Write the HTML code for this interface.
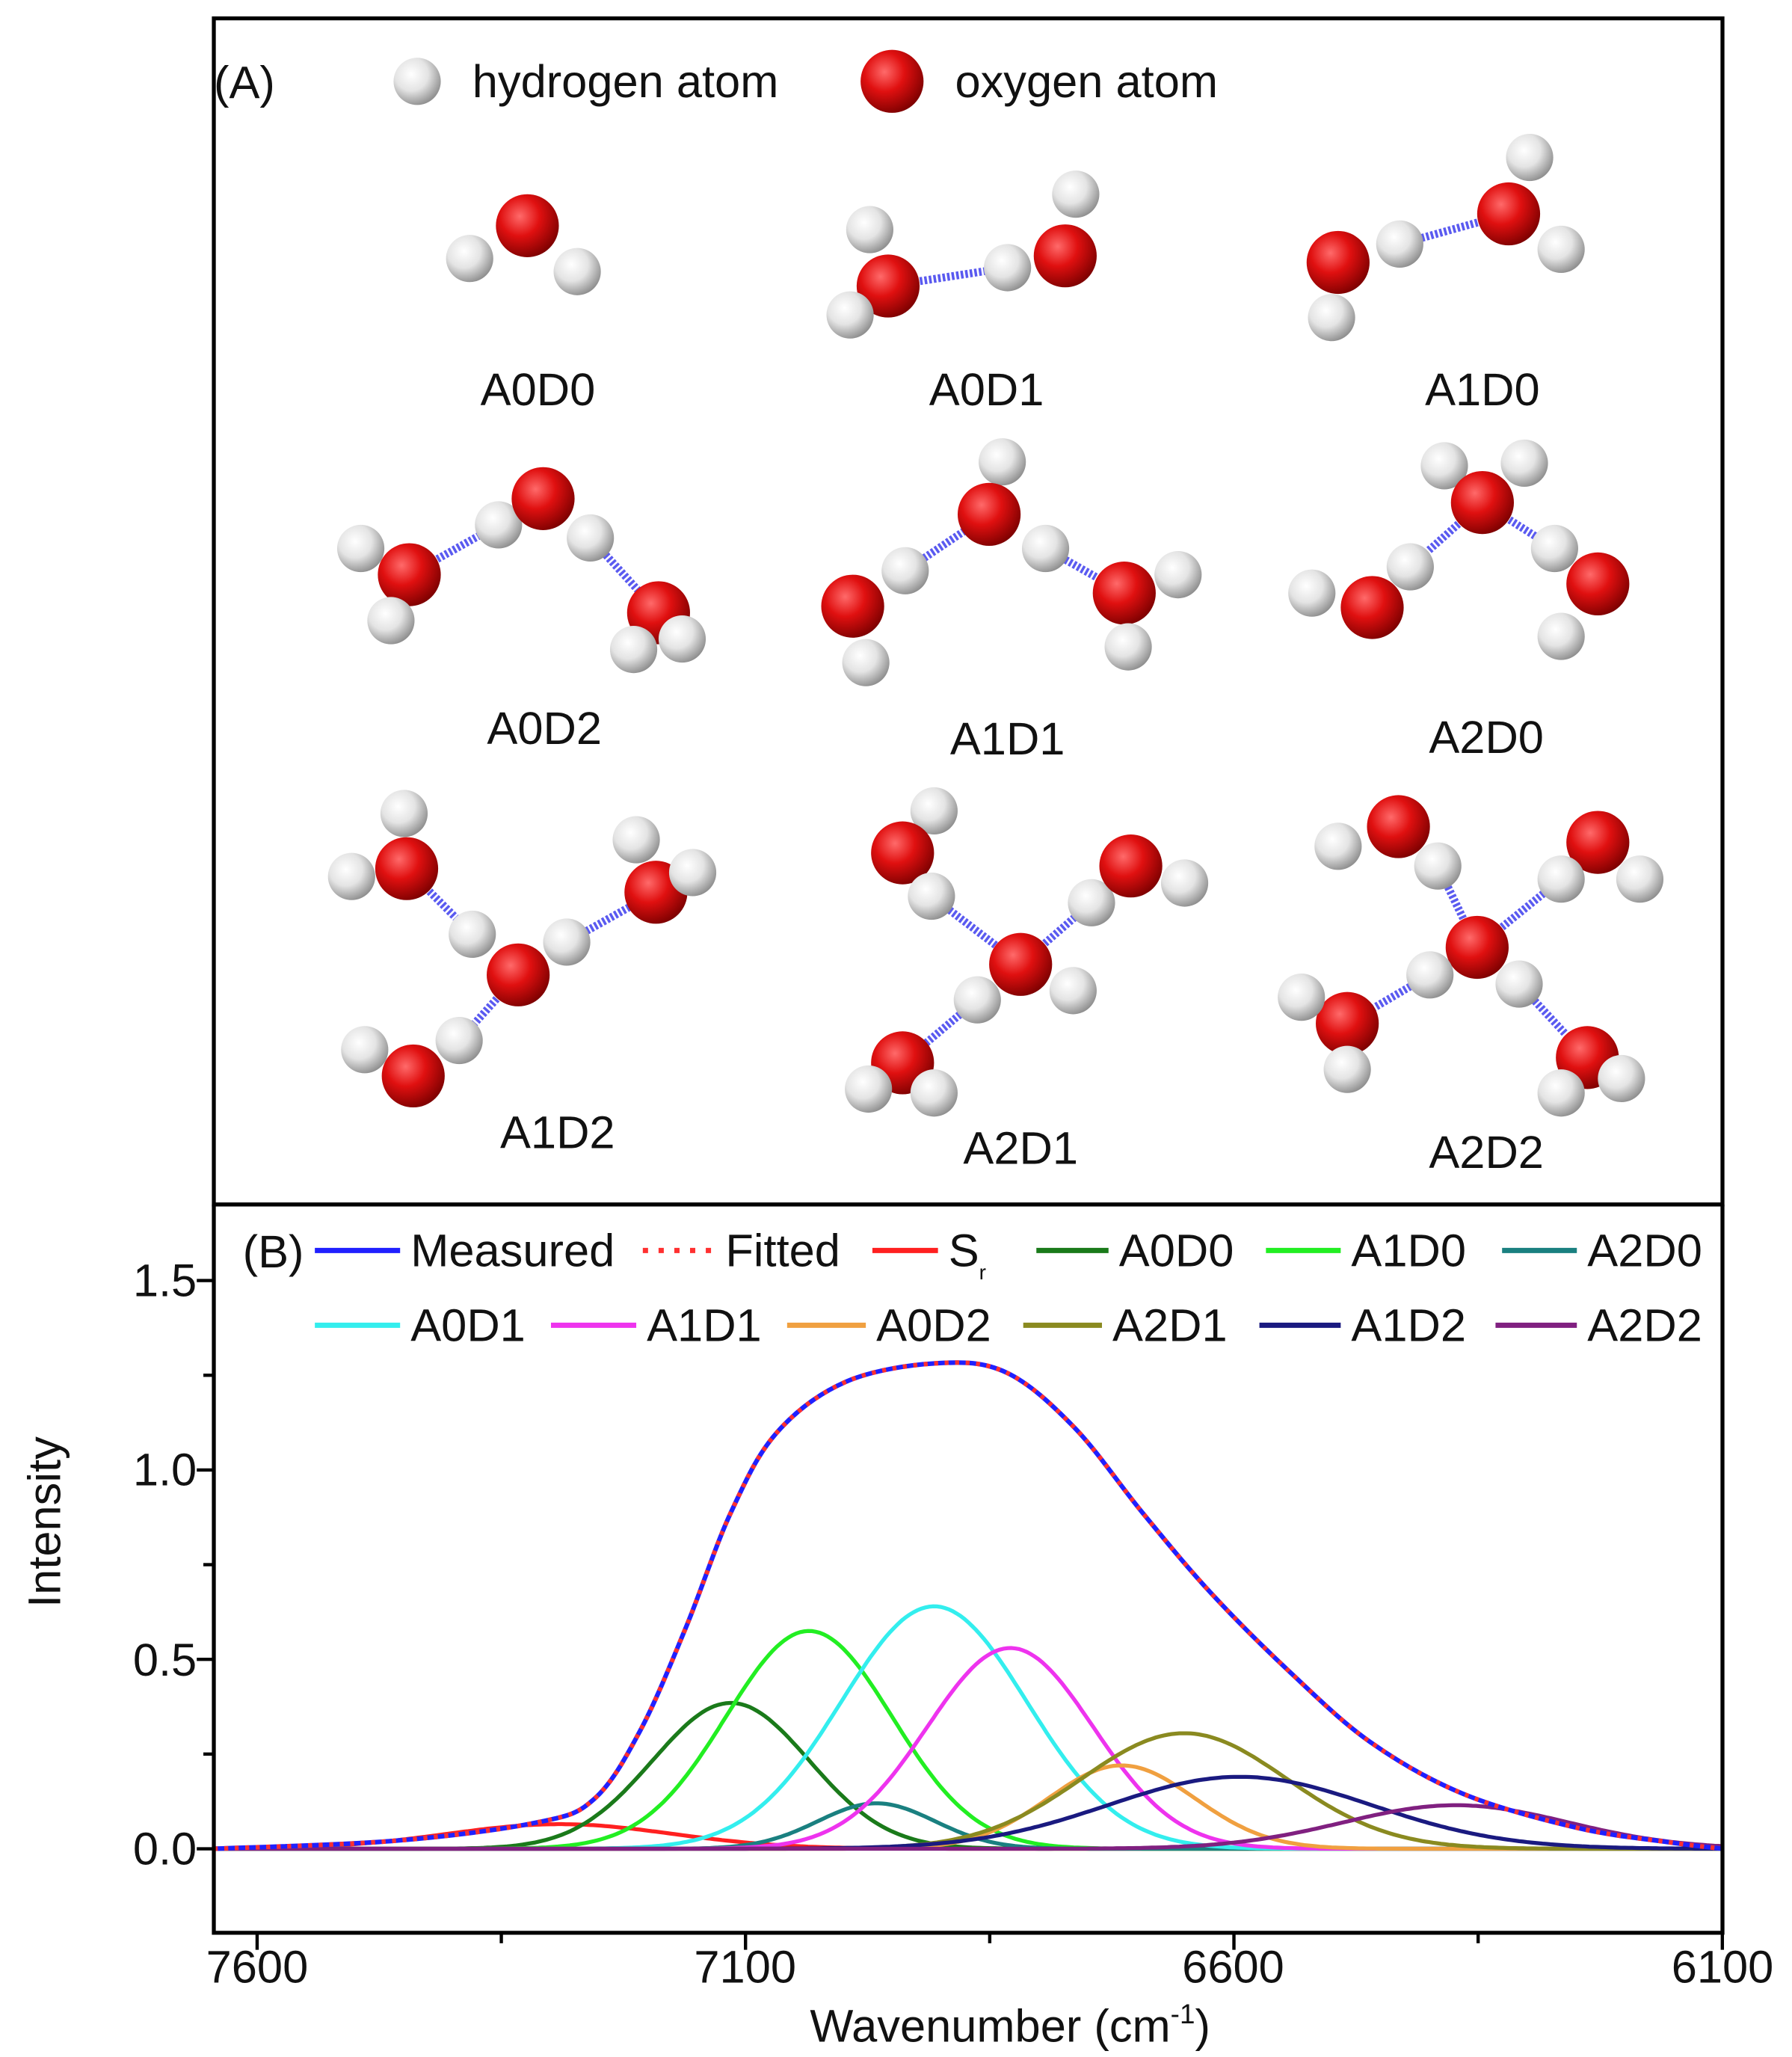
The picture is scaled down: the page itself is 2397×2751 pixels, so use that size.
<!DOCTYPE html>
<html><head><meta charset="utf-8"><style>html,body{margin:0;padding:0;background:#fff}svg{display:block}text{font-family:"Liberation Sans",sans-serif;fill:#111}</style></head>
<body>
<svg id="s" width="2397" height="2751" viewBox="0 0 1366 1567.7" preserveAspectRatio="none" xmlns="http://www.w3.org/2000/svg">
<defs>
<radialGradient id="gH" cx="0.38" cy="0.35" r="0.7"><stop offset="0" stop-color="#ffffff"/><stop offset="0.5" stop-color="#e4e4e4"/><stop offset="1" stop-color="#8a8a8a"/></radialGradient>
<radialGradient id="gO" cx="0.38" cy="0.35" r="0.7"><stop offset="0" stop-color="#ff6a6a"/><stop offset="0.45" stop-color="#e01010"/><stop offset="1" stop-color="#7a0000"/></radialGradient>
</defs>
<rect x="0" y="0" width="1366" height="1567.7" fill="#fff"/>
<rect x="163" y="14" width="1150" height="904" fill="none" stroke="#000" stroke-width="3"/>
<g id="mol"></g>
<text x="163" y="75" font-size="35">(A)</text>
<text x="360" y="74" font-size="35">hydrogen atom</text>
<text x="728" y="74" font-size="35">oxygen atom</text>
<g font-size="35" text-anchor="middle">
<text x="410" y="309">A0D0</text><text x="752" y="309">A0D1</text><text x="1130" y="309">A1D0</text>
<text x="415" y="567">A0D2</text><text x="768" y="575">A1D1</text><text x="1133" y="574">A2D0</text>
<text x="425" y="875">A1D2</text><text x="778" y="887">A2D1</text><text x="1133" y="890">A2D2</text>
</g>
<g id="plot"></g>
<line x1="163" y1="918" x2="1313" y2="918" stroke="#000" stroke-width="3"/>
<polyline points="163,918 163,1473 1313,1473 1313,918" fill="none" stroke="#000" stroke-width="3"/>
<g id="ticks"></g>
<g font-size="35" text-anchor="end">
<text x="150" y="1421">0.0</text><text x="150" y="1277">0.5</text><text x="150" y="1132">1.0</text><text x="150" y="988">1.5</text>
</g>
<g font-size="35" text-anchor="middle">
<text x="196" y="1511">7600</text><text x="568" y="1511">7100</text><text x="940" y="1511">6600</text><text x="1313" y="1511">6100</text>
<text x="770" y="1556">Wavenumber (cm<tspan font-size="21" dy="-14">-1</tspan><tspan dy="14">)</tspan></text>
</g>
<text x="0" y="0" font-size="35" text-anchor="middle" transform="translate(46,1160) rotate(-90)">Intensity</text>
<g id="leg" font-size="35"></g>
</svg>
<script>
var NS="http://www.w3.org/2000/svg";
function el(p,t,a,txt){var e=document.createElementNS(NS,t);for(var k in a)e.setAttribute(k,a[k]);if(txt)e.textContent=txt;p.appendChild(e);return e;}
var mol=document.getElementById('mol');
var bonds=[[677,218,768,204],[1067,186,1150,163],[312,438,380,400],[450,410,502,467],[690,435,754,392],[797,418,857,452],[1130,383,1075,432],[1130,383,1185,418],[310,662,360,712],[432,718,500,680],[395,743,350,793],[710,683,778,735],[778,735,832,688],[745,762,688,810],[1126,722,1096,660],[1126,722,1190,670],[1090,743,1027,780],[1158,750,1210,806]];
bonds.forEach(function(b){el(mol,'line',{x1:b[0],y1:b[1],x2:b[2],y2:b[3],stroke:'#5a5af0','stroke-width':6,'stroke-dasharray':'2 1.5'});});
var atoms=[['O',402,172],['H',358,197],['H',440,207],
['H',663,175],['O',677,218],['H',648,240],['H',768,204],['O',812,195],['H',820,148],
['O',1020,200],['H',1015,242],['H',1067,186],['O',1150,163],['H',1166,120],['H',1190,190],
['H',275,418],['O',312,438],['H',298,473],['H',380,400],['O',414,380],['H',450,410],['O',502,467],['H',483,495],['H',520,487],
['H',764,352],['O',754,392],['H',690,435],['O',650,462],['H',660,505],['H',797,418],['O',857,452],['H',898,438],['H',860,493],
['H',1101,355],['H',1162,353],['O',1130,383],['H',1075,432],['O',1046,463],['H',1000,452],['H',1185,418],['O',1218,445],['H',1190,485],
['H',308,620],['O',310,662],['H',268,668],['H',360,712],['O',395,743],['H',432,718],['O',500,680],['H',485,640],['H',528,665],['H',350,793],['O',315,820],['H',278,800],
['H',712,618],['O',688,650],['H',710,683],['O',778,735],['H',818,755],['H',745,762],['O',688,810],['H',662,830],['H',712,833],['H',832,688],['O',862,660],['H',903,673],
['O',1066,630],['H',1020,645],['H',1096,660],['O',1218,642],['H',1250,670],['H',1190,670],['O',1126,722],['H',1090,743],['H',1158,750],['O',1027,780],['H',992,760],['H',1027,815],['O',1210,806],['H',1190,833],['H',1236,822],
['H',318,62],['O',680,62]];
atoms.forEach(function(a){el(mol,'circle',{cx:a[1],cy:a[2],r:a[0]=='O'?24:18,fill:a[0]=='O'?'url(#gO)':'url(#gH)'});});
function X(w){return 196+(7600-w)/500*372.3;}
function Y(v){return 1409-v*288.7;}
var plot=document.getElementById('plot');
var comps=[['#ff2020',7290,0.065,115],['#1a7a1a',7115,0.385,80],['#22ee22',7035,0.575,85],['#1a8080',6966,0.12,60],['#33eeee',6907,0.64,95],['#ee33ee',6829,0.53,85],['#f0a040',6715,0.22,75],['#8a8a20',6651,0.305,105],['#1a1a80',6594,0.19,135],['#802080',6373,0.115,115]];
comps.forEach(function(c){var d='';for(var w=7644;w>=6100;w-=4){var v=c[2]*Math.exp(-Math.pow(w-c[1],2)/(2*c[3]*c[3]));var x=Math.max(163,X(w));d+=(d?'L':'M')+x.toFixed(1)+','+Y(v).toFixed(1);}el(plot,'path',{d:d,fill:'none',stroke:c[0],'stroke-width':3});});
var P=[[163,1409],[300,1403],[409,1389],[453,1371],[488,1319],[523,1240],[557,1153],[592,1092],[645,1053],[714,1039],[767,1046],[819,1088],[871,1153],[923,1214],[984,1275],[1045,1328],[1115,1367],[1202,1393],[1272,1404],[1313,1409]];
var d='M'+P[0][0]+','+P[0][1];
for(var i=0;i<P.length-1;i++){var p0=P[Math.max(0,i-1)],p1=P[i],p2=P[i+1],p3=P[Math.min(P.length-1,i+2)];
d+='C'+(p1[0]+(p2[0]-p0[0])/6)+','+(p1[1]+(p2[1]-p0[1])/6)+' '+(p2[0]-(p3[0]-p1[0])/6)+','+(p2[1]-(p3[1]-p1[1])/6)+' '+p2[0]+','+p2[1];}
el(plot,'path',{d:d,fill:'none',stroke:'#2020ff','stroke-width':3.5});
el(plot,'path',{d:d,fill:'none',stroke:'#ff3030','stroke-width':3.5,'stroke-dasharray':'3 5'});
var tk=document.getElementById('ticks');
[0,0.25,0.5,0.75,1,1.25,1.5].forEach(function(v,i){el(tk,'line',{x1:163,x2:i%2?155:150,y1:Y(v),y2:Y(v),stroke:'#000','stroke-width':2.5});});
[7600,7350,7100,6850,6600,6350,6100].forEach(function(w,i){el(tk,'line',{x1:X(w),x2:X(w),y1:1473,y2:i%2?1481:1486,stroke:'#000','stroke-width':2.5});});
var lg=document.getElementById('leg');
var L=[[240,305,953,'#2020ff','Measured',0],[490,545,953,'#ff3030','Fitted',1],[665,715,953,'#ff2020','S',2],[790,845,953,'#1a7a1a','A0D0',0],[965,1022,953,'#22ee22','A1D0',0],[1145,1202,953,'#1a8080','A2D0',0],
[240,305,1010,'#33eeee','A0D1',0],[420,485,1010,'#ee33ee','A1D1',0],[600,660,1010,'#f0a040','A0D2',0],[780,840,1010,'#8a8a20','A2D1',0],[960,1022,1010,'#1a1a80','A1D2',0],[1140,1202,1010,'#802080','A2D2',0]];
L.forEach(function(l){var a={x1:l[0],x2:l[1],y1:l[2],y2:l[2],stroke:l[3],'stroke-width':4};if(l[5]==1)a['stroke-dasharray']='4 8';el(lg,'line',a);
var t=el(lg,'text',{x:l[1]+8,y:l[2]+12},l[4]);if(l[5]==2){el(t,'tspan',{'font-size':16,dy:10},'r');}});
el(lg,'text',{x:185,y:966},'(B)');
</script>
</body></html>
